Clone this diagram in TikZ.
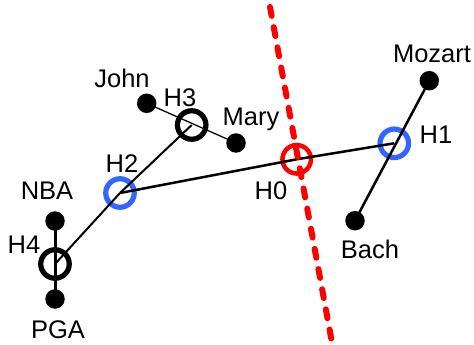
\documentclass[tikz,border=0pt]{standalone}
\usepackage{fontspec}
\setmainfont{Liberation Sans}
\definecolor{hubblue}{RGB}{51,102,255}
\definecolor{hubred}{RGB}{255,0,0}
\begin{document}
\begin{tikzpicture}[x=1pt,y=-1pt,
  dot/.style={circle,fill=black,inner sep=0pt,minimum size=19.5pt},
  hub/.style={circle,draw=#1,line width=5.2pt,inner sep=0pt,minimum size=28.5pt},
  lbl/.style={font=\fontsize{25.5}{30}\selectfont,inner sep=0pt},
  link/.style={draw=black,line width=#1},
  cut/.style={draw=hubred,line width=6pt,line cap=round,dash pattern=on 9pt off 11.5pt}]
\useasboundingbox (0,0) rectangle (474,345);
% hubs
\node[hub=black] (H3) at (191.7,125) {};
\node[hub=hubblue] (H2) at (120,193) {};
\node[hub=black] (H4) at (55,264) {};
\node[hub=hubred,line width=4.5pt] (H0) at (296.7,159.3) {};
\node[hub=hubblue] (H1) at (394.3,143.3) {};
% leaves
\node[dot] (John) at (146.7,103.3) {};
\node[dot] (Mary) at (236,143) {};
\node[dot] (NBA) at (55,221) {};
\node[dot] (PGA) at (55,299) {};
\node[dot] (Mozart) at (429.3,80.7) {};
\node[dot] (Bach) at (355,220.7) {};
% connectors
\draw[link=1.3pt] (John.center) -- (Mary.center);
\draw[link=2pt] (H3.center) -- (H2.center);
\draw[link=2pt] (H2.center) -- (H4.center);
\draw[link=3pt] (NBA.center) -- (PGA.center);
\draw[link=2.5pt] (H2.center) -- (H0.center) -- (H1.center);
\draw[link=2.5pt] (Mozart.center) -- (Bach.center);
% cut line
\coordinate (cutTop) at (270,7);
\coordinate (cutBot) at (331.7,341);
\draw[cut] (cutTop) -- (cutBot);
% labels
\node[lbl] (lJohn) at (122,78) {John};
\node[lbl] (lH3) at (180,97.5) {H3};
\node[lbl] (lMary) at (251,119) {Mary};
\node[lbl] (lH2) at (122,164) {H2};
\node[lbl] (lNBA) at (47,191) {NBA};
\node[lbl] (lH4) at (24,245) {H4};
\node[lbl] (lPGA) at (58,330) {PGA};
\node[lbl] (lH0) at (271,191) {H0};
\node[lbl] (lBach) at (370,249) {Bach};
\node[lbl] (lH1) at (436,135) {H1};
\node[lbl] (lMozart) at (432,54) {Mozart};
\end{tikzpicture}
\end{document}
